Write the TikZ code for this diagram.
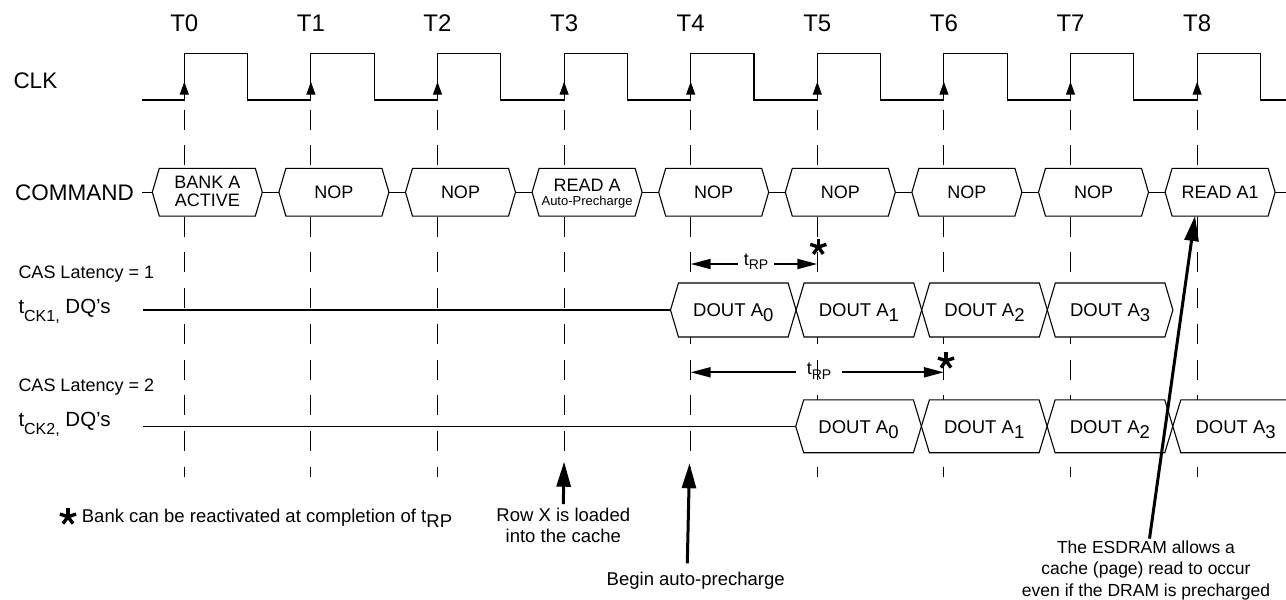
\documentclass[tikz,border=0pt]{standalone}
\usepackage{fontspec}
\setmainfont{Liberation Sans}
\usetikzlibrary{arrows.meta}

\newcommand{\dsub}[1]{\raisebox{-5pt}{#1}}
\newcommand{\ssub}[3]{\raisebox{-#1}{\fontsize{#2}{#2}\selectfont #3}}

\tikzset{
  wave/.style={line width=1.1pt},
  tline/.style={line width=0.9pt, dash pattern=on 20pt off 15.7pt},
  hexbox/.style={wave, fill=white},
  clkarrow/.style={wave, -{Triangle[length=13pt,width=9pt]}},
  trp/.style={line width=2pt, -{Triangle[length=20pt,width=10pt]}},
  notearrow/.style={line width=3pt, -{Triangle[length=25pt,width=14pt]}},
  biglbl/.style={inner sep=0pt, font=\fontsize{22.5}{26}\selectfont},
  lbl/.style={inner sep=0pt, font=\fontsize{18.5}{21}\selectfont},
  cmdtxt/.style={inner sep=0pt, align=center, font=\fontsize{18}{18.4}\selectfont},
  asterisk/.pic={\foreach \a in {90,18,162,234,306} \draw[line width=3.4pt] (0,0) -- (\a:8.5pt);},
}

\begin{document}
\begin{tikzpicture}[x=1pt,y=-1pt]
  \useasboundingbox (0,0) rectangle (1286,600);
  %% clock edges
  \foreach \i in {0,...,8}
    \coordinate (t\i) at ({184.3+126.6*\i},0);
  \foreach \i in {0,...,8}
    \node[biglbl, font=\fontsize{24}{26}\selectfont, anchor=base] (lt\i) at (t\i |- 0,31.7) {T\i};
  %% CLK
  \node[biglbl, anchor=base west] (clk) at (13.3,88.3) {CLK};
  \draw[wave] (142,100) \foreach \i in {0,...,8} { -- ({184.3+126.6*\i},100) -- ++(0,-46.7) -- ++(63.3,0) -- ++(0,46.7) } -- (1286,100);
  \foreach \i in {0,...,8}
    \draw[clkarrow] (t\i |- 0,100) -- (t\i |- 0,81.7);
  %% time lines
  \foreach \i in {0,...,8}
    \draw[tline] (t\i |- 0,109.6) -- (t\i |- 0,477);
  %% COMMAND
  \node[biglbl, anchor=base west] (cmd) at (15,200) {COMMAND};
  \draw[wave] (142,192.2) -- (1286,192.2);
  \foreach \i [evaluate=\i as \xl using 184.3+126.6*\i-32] in {0,...,8}
    \draw[hexbox] (\xl,192.2) -- ++(7,-23.9) -- ++(96,0) -- ++(7,23.9) -- ++(-7,23.9) -- ++(-96,0) -- cycle;
  \node[cmdtxt, anchor=base] (cmd0) at (207.3,206.7) {BANK A\\ACTIVE};
  \foreach \i in {1,2,4,5,6,7}
    \node[cmdtxt, anchor=base] (cmd\i) at ({207.3+126.6*\i},198.5) {NOP};
  \node[cmdtxt, anchor=base] (cmd3) at (587.1,205) {READ A\\[-5pt]{\fontsize{13}{13}\selectfont Auto-Precharge}};
  \node[cmdtxt, anchor=base] (cmd8) at (1220.1,198.3) {READ A1};
  %% CAS latency 1
  \node[lbl, font=\fontsize{18}{21}\selectfont, anchor=base west] (cas1) at (18.3,278.3) {CAS Latency = 1};
  \node[lbl, font=\fontsize{20.5}{22}\selectfont, anchor=base west] (dq1) at (18.3,313.3) {t\ssub{8pt}{16}{CK1,} DQ’s};
  \draw[wave] (143,310) -- (670.5,310);
  \foreach \k [evaluate=\k as \cl using 670.5+125.6*\k] in {0,...,3}
    \draw[hexbox] (\cl,310) -- ++(8,-27) -- ++(109.6,0) -- ++(8,27) -- ++(-8,27) -- ++(-109.6,0) -- cycle;
  \foreach \k in {0,...,3}
    \node[lbl, anchor=base] (dqa\k) at ({733.3+125.6*\k},316) {DOUT A\dsub{\k}};
  \coordinate (trpaL) at (t4 |- 0,264);
  \coordinate (trpaR) at (t5 |- 0,264);
  \node[lbl, font=\fontsize{18}{20}\selectfont, inner xsep=6pt, anchor=base] (trpa) at (756,265) {t\ssub{4.5pt}{14}{RP}};
  \draw[trp] (trpa.west |- trpaL) -- (trpaL);
  \draw[trp] (trpa.east |- trpaR) -- (trpaR);
  \pic at (818.3,247) {asterisk};
  %% CAS latency 2
  \node[lbl, font=\fontsize{18}{21}\selectfont, anchor=base west] (cas2) at (18.3,391.7) {CAS Latency = 2};
  \node[lbl, font=\fontsize{20.5}{22}\selectfont, anchor=base west] (dq2) at (18.3,426.7) {t\ssub{8pt}{16}{CK2,} DQ’s};
  \draw[wave] (143,426.3) -- (795.7,426.3);
  \foreach \k [evaluate=\k as \cl using 795.7+125.7*\k] in {0,...,2}
    \draw[hexbox] (\cl,426.3) -- ++(8,-26.4) -- ++(109.7,0) -- ++(8,26.4) -- ++(-8,26.4) -- ++(-109.7,0) -- cycle;
  \draw[hexbox] (1286,399.9) -- (1180.8,399.9) -- (1172.8,426.3) -- (1180.8,452.7) -- (1286,452.7);
  \foreach \k in {0,...,3}
    \node[lbl, anchor=base] (dqb\k) at ({858.5+125.7*\k},433.3) {DOUT A\dsub{\k}};
  \coordinate (trpbL) at (t4 |- 0,372.3);
  \coordinate (trpbR) at (t6 |- 0,372.3);
  \node[lbl, font=\fontsize{18}{20}\selectfont, inner xsep=11pt, anchor=base] (trpb) at (819,374.8) {t\ssub{4.5pt}{14}{RP}};
  \draw[trp] (trpb.west |- trpbL) -- (trpbL);
  \draw[trp] (trpb.east |- trpbR) -- (trpbR);
  \pic at (946,360.7) {asterisk};
  %% footnote
  \pic at (68,516.7) {asterisk};
  \node[lbl, anchor=base west] (foot) at (81.7,522.7) {Bank can be reactivated at completion of t\dsub{RP}};
  %% notes
  \node[lbl, align=center, anchor=base] (rowx) at (563.3,542.7) {Row X is loaded\\into the cache};
  \draw[notearrow] ([yshift=4pt]rowx.north) -- (t3 |- 0,461.7);
  \node[lbl, anchor=base] (bap) at (695.7,585) {Begin auto-precharge};
  \draw[notearrow] ([xshift=-8.4pt,yshift=8pt]bap.north) -- (689.5,463.3);
  \node[lbl, font=\fontsize{17.5}{21.5}\selectfont, align=center, anchor=base] (esd) at (1146,596) {The ESDRAM allows a\\cache (page) read to occur\\even if the DRAM is precharged};
  \coordinate (readtip) at (1195,216);
  \draw[notearrow] ([xshift=3.5pt,yshift=1.5pt]esd.north) -- (readtip);
\end{tikzpicture}
\end{document}
